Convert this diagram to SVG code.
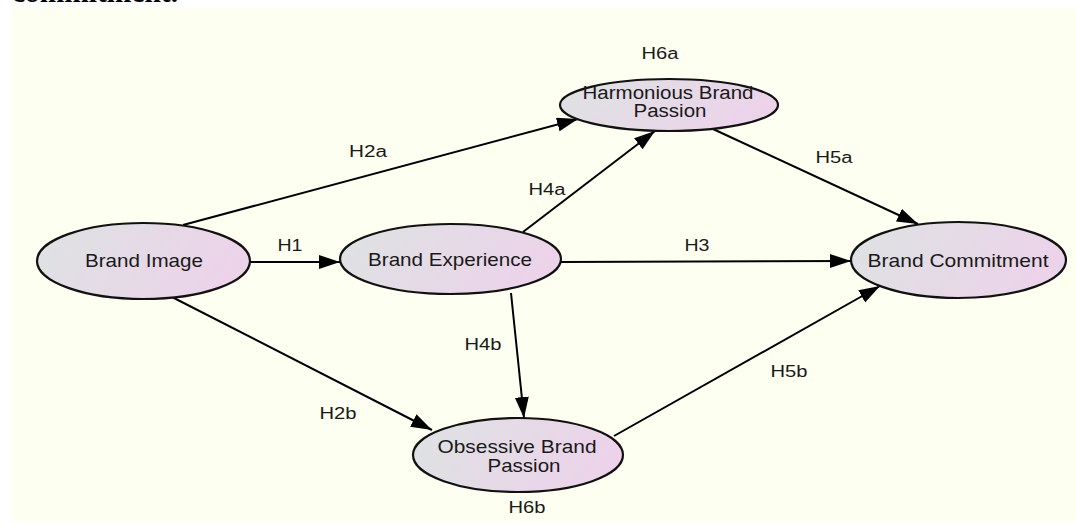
<svg xmlns="http://www.w3.org/2000/svg" width="1076" height="527" viewBox="0 0 1076 527">
<style>
.bg{fill:#fdfff0}
.node ellipse{fill:url(#g);stroke:#111;stroke-width:2.2}
.nt{font-family:"Liberation Sans",Arial,sans-serif;font-size:19px;fill:#1a1a1a;text-anchor:middle}
.nt2{font-family:"Liberation Sans",Arial,sans-serif;font-size:18px;fill:#1a1a1a;text-anchor:middle}
.lb{font-family:"Liberation Sans",Arial,sans-serif;font-size:16px;fill:#1a1a1a;text-anchor:middle}
.doc{font-family:"Liberation Serif","Times New Roman",serif;font-size:30px;fill:#000;font-weight:bold}
#edges line{stroke:#000;stroke-width:2;marker-end:url(#ah)}
</style>
<defs>
<linearGradient id="g" x1="0" y1="0" x2="1" y2="0.25">
<stop offset="0" stop-color="#dde3e2"/>
<stop offset="1" stop-color="#ecd3ea"/>
</linearGradient>
<marker id="ah" markerUnits="userSpaceOnUse" markerWidth="24" markerHeight="16" refX="21" refY="7" orient="auto">
<path d="M0,0 L21,7 L0,14 z" fill="#000"/>
</marker>
</defs>
<rect class="bg" x="11" y="8" width="1065" height="513"/>
<text class="doc" x="12" y="1.5" textLength="166" lengthAdjust="spacingAndGlyphs">commitment.</text>
<g id="edges">
<line x1="183" y1="225" x2="578" y2="119"/>
<line x1="523" y1="232" x2="655" y2="131"/>
<line x1="713" y1="129" x2="918" y2="224"/>
<line x1="250" y1="262" x2="340" y2="262"/>
<line x1="561" y1="262" x2="851" y2="261"/>
<line x1="511" y1="293" x2="524" y2="418"/>
<line x1="172" y1="297" x2="432" y2="430"/>
<line x1="614" y1="436" x2="880" y2="286"/>
</g>
<g id="edge-labels">
<text class="lb" x="368" y="157" textLength="38" lengthAdjust="spacingAndGlyphs">H2a</text>
<text class="lb" x="290" y="251" textLength="25" lengthAdjust="spacingAndGlyphs">H1</text>
<text class="lb" x="547" y="195" textLength="37" lengthAdjust="spacingAndGlyphs">H4a</text>
<text class="lb" x="697" y="251" textLength="25" lengthAdjust="spacingAndGlyphs">H3</text>
<text class="lb" x="834" y="163" textLength="37" lengthAdjust="spacingAndGlyphs">H5a</text>
<text class="lb" x="483" y="350" textLength="37" lengthAdjust="spacingAndGlyphs">H4b</text>
<text class="lb" x="789" y="377" textLength="37" lengthAdjust="spacingAndGlyphs">H5b</text>
<text class="lb" x="338" y="419" textLength="37" lengthAdjust="spacingAndGlyphs">H2b</text>
<text class="lb" x="660" y="59" textLength="37" lengthAdjust="spacingAndGlyphs">H6a</text>
<text class="lb" x="527" y="513" textLength="37" lengthAdjust="spacingAndGlyphs">H6b</text>
</g>
<g id="brand-image" class="node">
<ellipse cx="143.5" cy="261" rx="106.5" ry="38"/>
<text class="nt" x="144" y="267" textLength="118" lengthAdjust="spacingAndGlyphs">Brand Image</text>
</g>
<g id="brand-experience" class="node">
<ellipse cx="450.5" cy="259" rx="110.5" ry="35"/>
<text class="nt" x="450" y="266" textLength="164" lengthAdjust="spacingAndGlyphs">Brand Experience</text>
</g>
<g id="harmonious-brand-passion" class="node">
<ellipse cx="669" cy="105" rx="109" ry="26"/>
<text class="nt2" x="668" y="99" textLength="171" lengthAdjust="spacingAndGlyphs">Harmonious Brand</text>
<text class="nt2" x="670" y="117" textLength="73" lengthAdjust="spacingAndGlyphs">Passion</text>
</g>
<g id="brand-commitment" class="node">
<ellipse cx="958.5" cy="260" rx="107.5" ry="38"/>
<text class="nt" x="958" y="267" textLength="181" lengthAdjust="spacingAndGlyphs">Brand Commitment</text>
</g>
<g id="obsessive-brand-passion" class="node">
<ellipse cx="518" cy="455" rx="105" ry="37"/>
<text class="nt" x="517" y="453" textLength="159" lengthAdjust="spacingAndGlyphs">Obsessive Brand</text>
<text class="nt" x="524" y="472" textLength="73" lengthAdjust="spacingAndGlyphs">Passion</text>
</g>
</svg>
